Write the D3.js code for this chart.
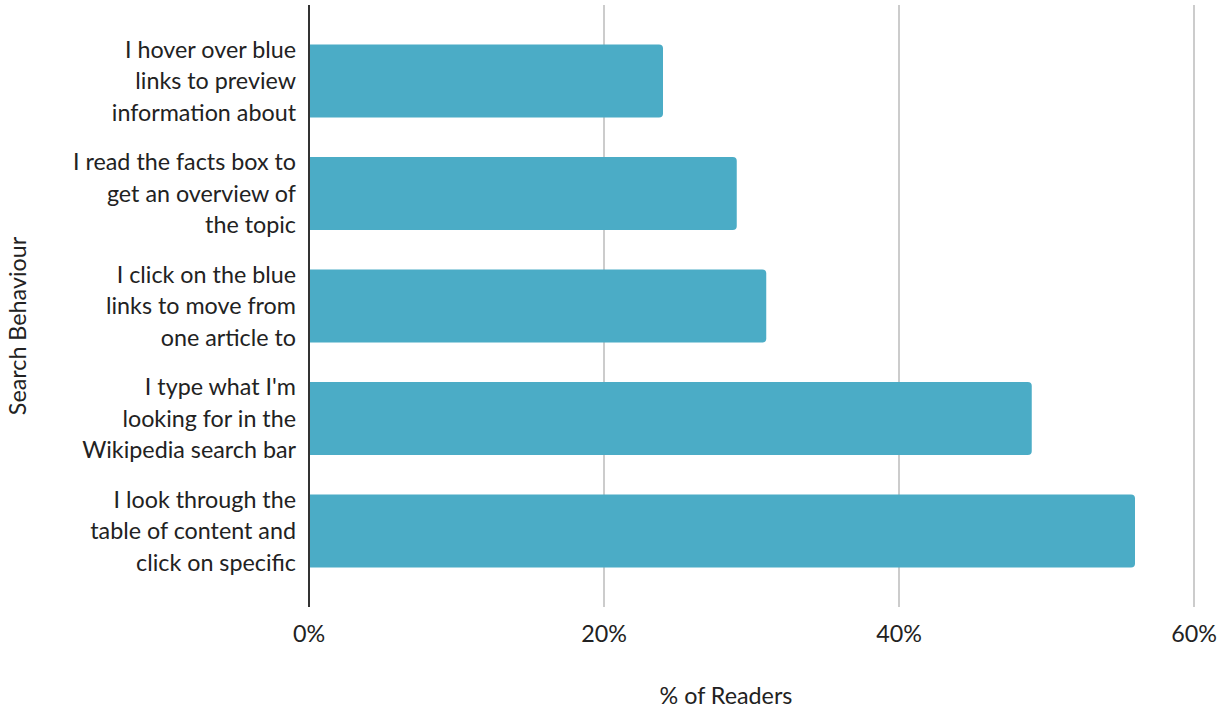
<!DOCTYPE html>
<html>
<head>
<meta charset="utf-8">
<script src="https://cdn.jsdelivr.net/npm/d3@7"></script>
<style>
  body { margin: 0; background: #fff; }
  text { font-family: Lato, "Open Sans", sans-serif; fill: #222; }
</style>
</head>
<body>
<script>
// Data
var categories = [
    ["I hover over blue", "links to preview", "information about"],
    ["I read the facts box to", "get an overview of", "the topic"],
    ["I click on the blue", "links to move from", "one article to"],
    ["I type what I'm", "looking for in the", "Wikipedia search bar"],
    ["I look through the", "table of content and", "click on specific"]
];
var values = [24, 29, 31, 49, 56];
var tickValues = [0, 20, 40, 60];

var width = 1219, height = 709;
var plotLeft = 309, plotRight = 1194, plotTop = 5, plotBottom = 607;
var fs = 23.3;

var svg = d3.select("body").append("svg").attr("width", width).attr("height", height);

var x = d3.scaleLinear().domain([0, 60]).range([plotLeft, plotRight]);
var y = d3.scaleBand().domain(d3.range(values.length)).range([plotTop, plotBottom]).padding(0.35);

// gridlines
svg.append("g").selectAll("line")
    .data(tickValues.slice(1))
    .enter().append("line")
    .attr("x1", function(d){ return x(d); })
    .attr("x2", function(d){ return x(d); })
    .attr("y1", plotTop).attr("y2", plotBottom)
    .attr("stroke", "#cccccc").attr("stroke-width", 2);

// bars with slightly rounded right end
var r = 4;
svg.append("g").selectAll("path")
    .data(values)
    .enter().append("path")
    .attr("fill", "#4bacc6")
    .attr("d", function(d, i){
        var x0 = x(0), x1 = x(d), y0 = y(i), y1 = y(i) + y.bandwidth();
        return "M" + x0 + "," + y0 + "H" + (x1 - r) + "Q" + x1 + "," + y0 + " " + x1 + "," + (y0 + r) +
               "V" + (y1 - r) + "Q" + x1 + "," + y1 + " " + (x1 - r) + "," + y1 + "H" + x0 + "Z";
    });

// vertical axis line
svg.append("line")
    .attr("x1", x(0)).attr("x2", x(0))
    .attr("y1", plotTop).attr("y2", plotBottom)
    .attr("stroke", "#333").attr("stroke-width", 2);

// category labels
var lab = svg.append("g").selectAll("text")
    .data(categories)
    .enter().append("text")
    .attr("text-anchor", "end")
    .attr("font-size", fs);
lab.each(function(lines, i){
    var cy = y(i) + y.bandwidth() / 2;
    d3.select(this).selectAll("tspan")
        .data(lines)
        .enter().append("tspan")
        .attr("x", 296)
        .attr("y", function(d, j){ return cy + (j - 1) * 31.5; })
        .attr("dy", "0.35em")
        .text(function(d){ return d; });
});

// x tick labels
svg.append("g").selectAll("text")
    .data(tickValues)
    .enter().append("text")
    .attr("x", function(d){ return x(d); })
    .attr("y", 634)
    .attr("dy", "0.35em")
    .attr("text-anchor", "middle")
    .attr("font-size", fs)
    .text(function(d){ return d + "%"; });

// axis titles
svg.append("text")
    .attr("x", 726).attr("y", 696).attr("dy", "0.35em")
    .attr("text-anchor", "middle").attr("font-size", fs)
    .text("% of Readers");

svg.append("text")
    .attr("transform", "translate(18,326) rotate(-90)")
    .attr("dy", "0.35em")
    .attr("text-anchor", "middle").attr("font-size", fs)
    .text("Search Behaviour");
</script>
</body>
</html>
